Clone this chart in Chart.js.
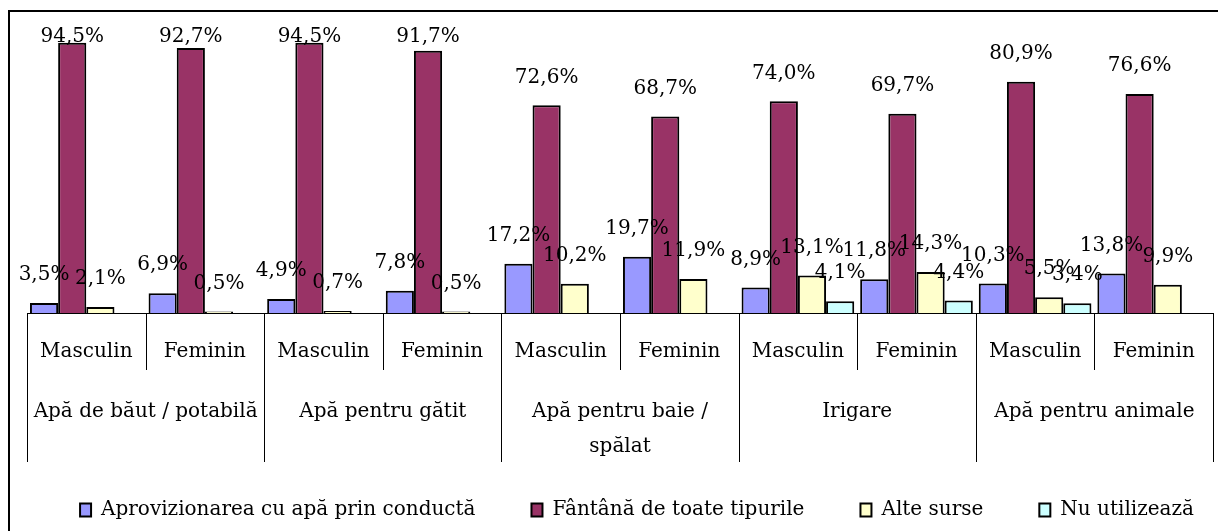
<!DOCTYPE html>
<html>
<head>
<meta charset="utf-8">
<script src="https://cdn.jsdelivr.net/npm/chart.js@4.4.1/dist/chart.umd.min.js"></script>
<style>
    html, body { margin: 0; padding: 0; background: #fff; overflow: hidden; }
    #wrap { position: absolute; left: 0; top: 0; width: 1274px; height: 531px; }
    #frame { position: absolute; left: 8px; top: 10px; width: 2000px; height: 2000px;
             border-left: 2px solid #000; border-top: 2px solid #000; pointer-events: none; }
</style>
</head>
<body>
<div id="wrap"><canvas id="chart" width="1274" height="531"></canvas></div>
<div id="frame"></div>
<script>
// --- Data ---
const genders = ['Masculin', 'Feminin', 'Masculin', 'Feminin', 'Masculin', 'Feminin', 'Masculin', 'Feminin', 'Masculin', 'Feminin'];
const groups = ['Apă de băut / potabilă', 'Apă pentru gătit', ['Apă pentru baie /', 'spălat'], 'Irigare', 'Apă pentru animale'];

const seriesNames = ['Aprovizionarea cu apă prin conductă', 'Fântână de toate tipurile', 'Alte surse', 'Nu utilizează'];
const conducta = [3.5, 6.9, 4.9, 7.8, 17.2, 19.7, 8.9, 11.8, 10.3, 13.8];
const fantana = [94.5, 92.7, 94.5, 91.7, 72.6, 68.7, 74.0, 69.7, 80.9, 76.6];
const alteSurse = [2.1, 0.5, 0.7, 0.5, 10.2, 11.9, 13.1, 14.3, 5.5, 9.9];
const nuUtilizeaza = [null, null, null, null, null, null, 4.1, 4.4, 3.4, null];

const colors = ['#9999FF', '#993366', '#FFFFCC', '#CCFFFF'];

const FONT = { family: '"DejaVu Serif", "Liberation Serif", serif', size: 20 };
Chart.defaults.color = '#000';

// value labels above each bar, "94,5%"
const valueLabels = {
    id: 'valueLabels',
    afterDatasetsDraw(chart) {
        const ctx = chart.ctx;
        const top = chart.chartArea.top;
        ctx.save();
        ctx.font = `${FONT.size}px ${FONT.family}`;
        ctx.fillStyle = '#000';
        ctx.textAlign = 'center';
        ctx.textBaseline = 'middle';
        chart.data.datasets.forEach((ds, di) => {
            const meta = chart.getDatasetMeta(di);
            meta.data.forEach((bar, i) => {
                const v = ds.data[i];
                if (v === null || v === undefined) return;
                const y = Math.max(bar.y - 28, top + 10);
                ctx.fillText(v.toFixed(1).replace('.', ',') + '%', bar.x, y);
            });
        });
        ctx.restore();
    }
};

// category separators below the axis (short between genders, long between groups)
const separators = {
    id: 'separators',
    afterLayout(chart) {
        // group labels run into the legend box, so don't clip their second line
        chart.scales.x2.bottom = chart.scales.x.top + 149;
    },
    afterDraw(chart) {
        const x = chart.scales.x;
        const step = x.getPixelForValue(1) - x.getPixelForValue(0);
        const start = x.getPixelForValue(0) - step / 2;
        const ctx = chart.ctx;
        ctx.save();
        ctx.strokeStyle = '#000';
        ctx.lineWidth = 1;
        for (let i = 0; i <= genders.length; i++) {
            const px = Math.round(start + i * step) + 0.5;
            const bottom = x.top + (i % 2 === 0 ? 149 : 57);
            ctx.beginPath();
            ctx.moveTo(px, x.top);
            ctx.lineTo(px, bottom);
            ctx.stroke();
        }
        ctx.restore();
    }
};

const datasets = [conducta, fantana, alteSurse, nuUtilizeaza].map((data, i) => ({
    label: seriesNames[i],
    data: data,
    backgroundColor: colors[i],
    borderColor: '#000',
    borderWidth: 2,
    borderSkipped: 'bottom',
    categoryPercentage: 0.95,
    barPercentage: 1.0
}));

// hidden side axes only keep the plot margins, so the legend can use the full width
const spacer = (pos, w) => ({
    position: pos,
    display: true,
    grid: { display: false, drawTicks: false },
    border: { display: false },
    ticks: { display: false },
    afterFit: (scale) => { scale.width = w; }
});

new Chart(document.getElementById('chart'), {
    type: 'bar',
    data: { labels: genders, datasets: datasets },
    plugins: [valueLabels, separators],
    options: {
        responsive: false,
        animation: false,
        layout: { padding: { left: 0, right: 0, top: 27, bottom: 1 } },
        scales: {
            y: { ...spacer('left', 27), min: 0, max: 100 },
            yr: { ...spacer('right', 61), min: 0, max: 100 },
            x: {
                weight: 0,
                grid: { display: false, drawTicks: false },
                border: { display: true, color: '#000', width: 1 },
                ticks: { font: { ...FONT, lineHeight: 1.2 }, padding: 27, maxRotation: 0, autoSkip: false, color: '#000' },
                afterFit: (scale) => { scale.height = 57; }
            },
            x2: {
                type: 'category',
                position: 'bottom',
                weight: 1,
                labels: groups,
                offset: true,
                grid: { display: false, drawTicks: false },
                border: { display: false },
                ticks: { font: { ...FONT, lineHeight: 1.75 }, padding: 24, maxRotation: 0, autoSkip: false, color: '#000' },
                afterFit: (scale) => { scale.height = 74; }
            }
        },
        plugins: {
            legend: {
                position: 'bottom',
                labels: {
                    font: FONT,
                    color: '#000',
                    boxWidth: 11,
                    boxHeight: 13,
                    padding: 56
                }
            },
            tooltip: { enabled: false }
        }
    }
});
</script>
</body>
</html>
